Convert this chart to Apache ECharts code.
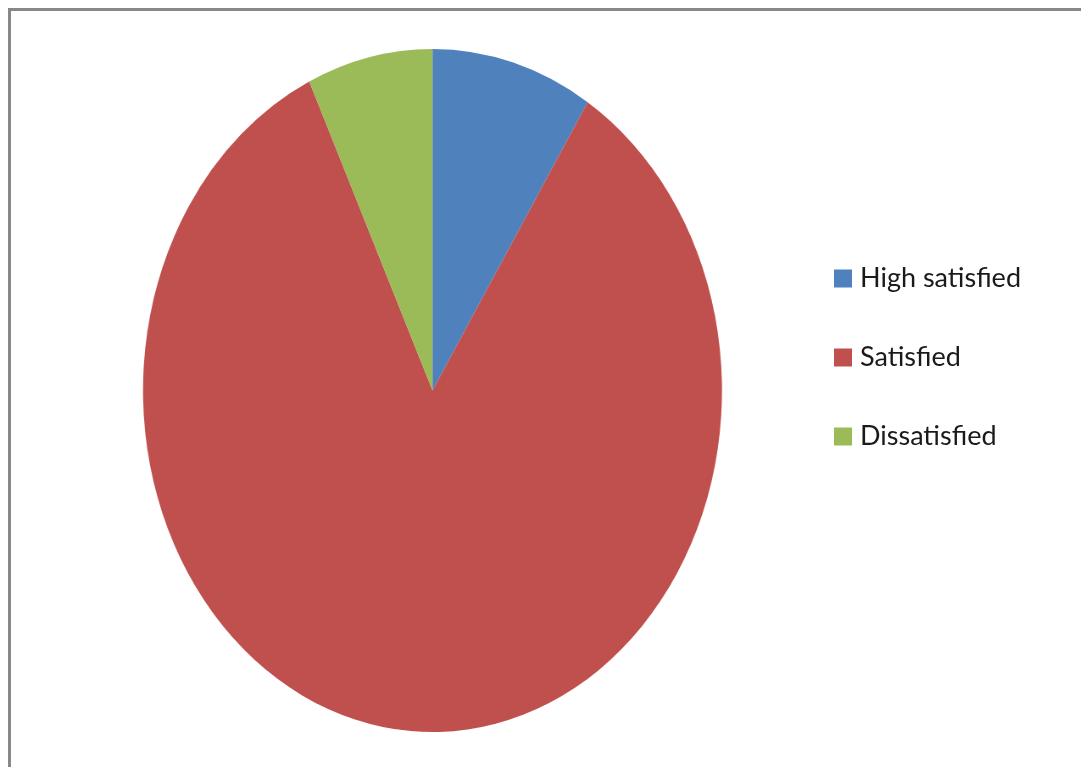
<!DOCTYPE html>
<html>
<head>
<meta charset="utf-8">
<script src="https://cdn.jsdelivr.net/npm/echarts@6/dist/echarts.min.js"></script>
<style>
  html, body { margin: 0; padding: 0; background: #fff; overflow: hidden; }
  #frame { position: absolute; left: 8px; top: 8px; width: 2000px; height: 2000px; border: 3px solid #888; box-sizing: border-box; }
  #pie { position: absolute; left: 0; top: 0; width: 1275px; height: 767px; transform: scaleX(0.8477); transform-origin: 0 0; }
  #legend { position: absolute; left: 0; top: 0; width: 1081px; height: 767px; }
</style>
</head>
<body>
<div id="frame"></div>
<div id="pie"></div>
<div id="legend"></div>
<script>
const categories = ['High satisfied', 'Satisfied', 'Dissatisfied'];
const values = [9, 84, 7];
const colors = ['#4F81BD', '#C0504D', '#9BBB59'];

const data = categories.map((name, i) => ({ name: name, value: values[i], itemStyle: { color: colors[i] } }));

const pieChart = echarts.init(document.getElementById('pie'), null, { renderer: 'canvas' });
pieChart.setOption({
  animation: false,
  series: [{
    type: 'pie',
    center: [510.2, 390.5],
    radius: 341.5,
    startAngle: 90,
    clockwise: true,
    label: { show: false },
    labelLine: { show: false },
    emphasis: { disabled: true },
    itemStyle: { borderWidth: 0 },
    data: data
  }]
});

const legendChart = echarts.init(document.getElementById('legend'), null, { renderer: 'canvas' });
legendChart.setOption({
  animation: false,
  legend: {
    orient: 'vertical',
    left: 834,
    top: 265,
    padding: 0,
    itemWidth: 18,
    itemHeight: 18,
    itemGap: 52,
    icon: 'rect',
    selectedMode: false,
    textStyle: { fontFamily: 'Lato', fontSize: 27, color: '#1a1a1a', padding: [0, 0, 0, 3] },
    data: categories
  },
  series: [{
    type: 'pie',
    radius: 0,
    silent: true,
    label: { show: false },
    labelLine: { show: false },
    data: data
  }]
});
</script>
</body>
</html>
